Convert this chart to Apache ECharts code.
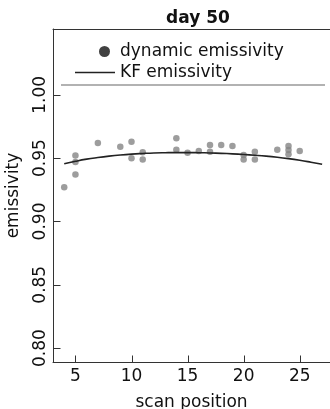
<!DOCTYPE html>
<html><head><meta charset="utf-8">
<script src="https://cdn.jsdelivr.net/npm/echarts@6/dist/echarts.min.js"></script>
<style>html,body{margin:0;padding:0;background:#fff}#c{width:330px;height:409px}</style>
</head><body><div id="c"></div>
<script>
const titleText = 'day 50';
const xTicks = [5, 10, 15, 20, 25];
const yTicks = [0.80, 0.85, 0.90, 0.95, 1.00];
const scanPos = [4, 5, 5, 5, 7, 9, 10, 10, 11, 11, 14, 14, 15, 16, 17, 17, 18, 19, 20, 20, 21, 21, 23, 24, 24, 24, 25];
const dynEmis = [0.927, 0.937, 0.947, 0.952, 0.962, 0.959, 0.963, 0.950, 0.9546, 0.949, 0.9657, 0.9567, 0.9543, 0.9557, 0.9604, 0.955, 0.9604, 0.9596, 0.9525, 0.949, 0.955, 0.949, 0.9567, 0.9596, 0.9565, 0.953, 0.9557];
const kfPos = [4, 5, 6, 7, 8, 9, 10, 11, 12, 13, 14, 15, 16, 17, 18, 19, 20, 21, 22, 23, 24, 25, 26, 27];
const kfEmis = [0.9455, 0.9475, 0.9492, 0.9505, 0.9516, 0.9525, 0.9532, 0.9537, 0.9541, 0.9543, 0.9544, 0.9544, 0.9543, 0.9541, 0.9538, 0.9534, 0.9529, 0.9523, 0.9516, 0.9507, 0.9496, 0.9483, 0.9468, 0.9452];

const F = 'DejaVu Sans';
const X_MIN = 3, X_MAX = 27.7, Y_MIN = 0.789, Y_MAX = 1.052;
const chart = echarts.init(document.getElementById('c'), null, {renderer: 'canvas'});
chart.setOption({
  animation: false,
  title: {text: titleText, left: 193, textAlign: 'center', top: 5,
    textStyle: {fontFamily: F, fontWeight: 'bold', fontSize: 17, color: '#111'}},
  grid: {left: 53, top: 29, right: 0, bottom: 47,
    outerBounds: {left: -200, top: -200, right: -200, bottom: -200}},
  legend: [
    {data: [{name: 'dynamic emissivity', icon: 'circle', itemStyle: {color: '#111'}}],
     left: 94, top: 38, itemWidth: 11, itemHeight: 11, selectedMode: false,
     textStyle: {fontFamily: F, fontSize: 17, color: '#111', padding: [0, 0, 0, 5]}},
    {data: [{name: 'KF emissivity', icon: 'path://M0,0L40,0L40,1.6L0,1.6Z', itemStyle: {color: '#222'}}],
     left: 70, top: 59, itemWidth: 40, itemHeight: 10, selectedMode: false,
     textStyle: {fontFamily: F, fontSize: 17, color: '#111', padding: [0, 0, 0, 0]}}
  ],
  xAxis: [{
    type: 'value', min: X_MIN, max: X_MAX, position: 'bottom',
    name: 'scan position', nameLocation: 'middle', nameGap: 32,
    nameTextStyle: {fontFamily: F, fontSize: 17, color: '#111'},
    axisLine: {show: true, lineStyle: {color: '#333', width: 1}},
    axisTick: {show: false},
    axisLabel: {fontFamily: F, fontSize: 17, color: '#111', margin: 6, customValues: xTicks},
    splitLine: {show: false}
  }, {
    type: 'value', min: X_MIN, max: X_MAX, position: 'top',
    axisLine: {show: true, lineStyle: {color: '#333', width: 1}},
    axisTick: {show: false}, axisLabel: {show: false}, splitLine: {show: false}
  }],
  yAxis: {
    type: 'value', min: Y_MIN, max: Y_MAX,
    name: 'emissivity', nameLocation: 'middle', nameGap: 31,
    nameTextStyle: {fontFamily: F, fontSize: 17, color: '#111'},
    axisLine: {show: true, lineStyle: {color: '#333', width: 1}},
    axisTick: {show: false},
    axisLabel: {fontFamily: F, fontSize: 17, color: '#111', rotate: 90, margin: 4,
      customValues: yTicks, formatter: v => v.toFixed(2)},
    splitLine: {show: false}
  },
  series: [
    {name: 'dynamic emissivity', type: 'scatter', symbol: 'circle', symbolSize: 6.5,
     itemStyle: {color: '#858585'}, data: scanPos.map((x, i) => [x, dynEmis[i]])},
    {name: 'KF emissivity', type: 'line', smooth: true, showSymbol: false,
     lineStyle: {color: '#222', width: 1.6}, itemStyle: {color: '#222'},
     data: kfPos.map((x, i) => [x, kfEmis[i]])}
  ]
});

// Inward tick marks placed through the chart's own scales
const TL = 7;
const xLeft = Math.round(chart.convertToPixel({xAxisIndex: 0}, X_MIN)) + 0.5;
const yBottom = Math.round(chart.convertToPixel({yAxisIndex: 0}, Y_MIN)) + 0.5;
const tickEls = [];
xTicks.forEach(v => {
  const px = Math.round(chart.convertToPixel({xAxisIndex: 0}, v)) + 0.5;
  tickEls.push({type: 'line', silent: true, shape: {x1: px, y1: yBottom, x2: px, y2: yBottom - TL},
    style: {stroke: '#333', lineWidth: 1}});
});
yTicks.forEach(v => {
  const py = Math.round(chart.convertToPixel({yAxisIndex: 0}, v)) + 0.5;
  tickEls.push({type: 'line', silent: true, shape: {x1: xLeft, y1: py, x2: xLeft + TL, y2: py},
    style: {stroke: '#333', lineWidth: 1}});
});
tickEls.push({type: 'line', silent: true, shape: {x1: 61, y1: 85, x2: 325, y2: 85},
  style: {stroke: '#666', lineWidth: 1.2}});
chart.setOption({graphic: tickEls});
</script></body></html>
